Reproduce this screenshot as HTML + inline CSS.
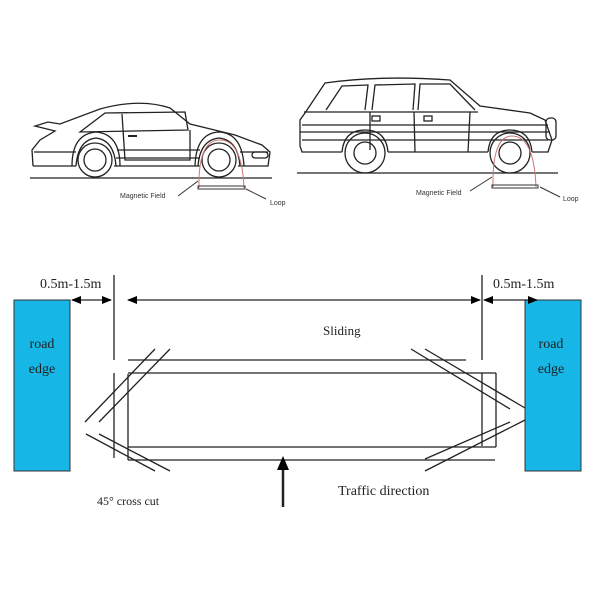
<!DOCTYPE html>
<html><head><style>
body{margin:0;background:#fff;}
svg{display:block;}
</style></head><body>
<svg width="600" height="600" viewBox="0 0 600 600" xmlns="http://www.w3.org/2000/svg">
<defs>
<marker id="ah" markerWidth="10" markerHeight="8" refX="9" refY="4" orient="auto-start-reverse" markerUnits="userSpaceOnUse">
<path d="M0,0 L10,4 L0,8 z" fill="#000"/></marker>
</defs>
<g fill="none" stroke="#222" stroke-width="1.3">
<!-- Porsche -->
<line x1="30" y1="178" x2="272" y2="178"/>
<path d="M33,166 L32,150 L40,140 L55,131 L35,126 L48,122 L60,124 L100,109 Q140,98 170,108 L190,124 L235,135 L262,145 L270,152 L268,166 L238,166"/>
<path d="M200,166 L114,166 M76,166 L33,166"/>
<path d="M34,152 L76,152 M116,158 L200,158 M240,152 L268,152"/>
<path d="M76,166 Q78,140 96,138 Q114,140 116,166"/>
<path d="M198,166 Q200,140 219,138 Q238,140 240,166"/>
<path d="M72,166 Q72,134 96,132 Q120,134 120,166"/>
<path d="M195,166 Q196,133 219,132 Q242,133 244,166"/>
<circle cx="95" cy="160" r="17"/><circle cx="95" cy="160" r="11"/>
<circle cx="219" cy="160" r="17"/><circle cx="219" cy="160" r="11"/>
<path d="M80,132 L105,113 L185,112 L188,130 Z"/>
<path d="M122,114 L125,160 L190,160 L190,130"/>
<path d="M117,150 L200,150"/>
<path d="M128,136 L137,136" stroke-width="2"/>
<rect x="252" y="152" width="16" height="6" rx="3"/>
<!-- SUV -->
<line x1="297" y1="173" x2="558" y2="173"/>
<path d="M300,146 L300,120 L305,113 L325,83 Q380,75 450,80 L480,106 L530,113 L545,120 L552,140 L548,152 L532,152 M488,152 L388,152 M342,152 L302,152 L300,146"/>
<path d="M304,112 L478,112"/>
<path d="M300,132 L550,132 M302,140 L548,140 M302,125 L548,125"/>
<path d="M342,152 Q344,130 365,130 Q386,130 388,152"/>
<path d="M488,152 Q490,130 510,130 Q530,130 532,152"/>
<circle cx="365" cy="153" r="20"/><circle cx="365" cy="153" r="11"/>
<circle cx="510" cy="153" r="20"/><circle cx="510" cy="153" r="11"/>
<path d="M326,110 L342,86 L368,85 L365,110 M372,110 L375,85 L415,84 L413,110 M418,110 L420,84 L450,84 L475,110"/>
<path d="M414,112 L415,152 M370,112 L370,150 M470,112 L468,152"/>
<rect x="546" y="118" width="10" height="22" rx="4"/>
<rect x="372" y="116" width="8" height="5"/><rect x="424" y="116" width="8" height="5"/>
</g>
<g fill="none" stroke="#c77" stroke-width="1">
<path d="M199,188 Q198,140 220,140 Q242,140 244,188"/>
<path d="M493,187 Q492,136 512,136 Q534,136 536,187"/>
</g>
<g fill="none" stroke="#333" stroke-width="1">
<rect x="198" y="186" width="47" height="3"/>
<rect x="492" y="185" width="46" height="3"/>
<line x1="178" y1="196" x2="198" y2="181"/>
<line x1="246" y1="189" x2="266" y2="199"/>
<line x1="470" y1="191" x2="492" y2="177"/>
<line x1="540" y1="187" x2="560" y2="197"/>
</g>
<g font-family="Liberation Sans, sans-serif" font-size="7" fill="#333">
<text x="120" y="198">Magnetic Field</text>
<text x="270" y="205">Loop</text>
<text x="416" y="195">Magnetic Field</text>
<text x="563" y="201">Loop</text>
</g>
<!-- bottom diagram -->
<rect x="14" y="300" width="56" height="171" fill="#16b6e6" stroke="#333" stroke-width="1"/>
<rect x="525" y="300" width="56" height="171" fill="#16b6e6" stroke="#333" stroke-width="1"/>
<g font-family="Liberation Serif, serif" font-size="14" fill="#222">
<text x="42" y="348" text-anchor="middle">road</text>
<text x="42" y="373" text-anchor="middle">edge</text>
<text x="551" y="348" text-anchor="middle">road</text>
<text x="551" y="373" text-anchor="middle">edge</text>
<text x="40" y="288">0.5m-1.5m</text>
<text x="493" y="288">0.5m-1.5m</text>
<text x="323" y="335" font-size="13">Sliding</text>
<text x="338" y="495">Traffic direction</text>
<text x="97" y="505" font-size="12">45°  cross cut</text>
</g>
<g stroke="#222" stroke-width="1.3" fill="none">
<line x1="72" y1="300" x2="111" y2="300" marker-start="url(#ah)" marker-end="url(#ah)"/>
<line x1="128" y1="300" x2="480" y2="300" marker-start="url(#ah)" marker-end="url(#ah)"/>
<line x1="484" y1="300" x2="537" y2="300" marker-start="url(#ah)" marker-end="url(#ah)"/>
<line x1="114" y1="275" x2="114" y2="360"/>
<line x1="114" y1="373" x2="114" y2="458"/>
<line x1="482" y1="275" x2="482" y2="360"/>
<line x1="482" y1="373" x2="482" y2="446"/>
<line x1="496" y1="373" x2="496" y2="447"/>
<line x1="128" y1="374" x2="128" y2="460"/>
<line x1="128" y1="360" x2="466" y2="360"/>
<line x1="128" y1="373" x2="496" y2="373"/>
<line x1="128" y1="447" x2="496" y2="447"/>
<line x1="128" y1="460" x2="495" y2="460"/>
<line x1="85" y1="422" x2="155" y2="349"/>
<line x1="99" y1="422" x2="170" y2="349"/>
<line x1="86" y1="434" x2="155" y2="471"/>
<line x1="99" y1="434" x2="170" y2="471"/>
<line x1="411" y1="349" x2="510" y2="409"/>
<line x1="425" y1="349" x2="525" y2="408"/>
<line x1="425" y1="459" x2="510" y2="422"/>
<line x1="425" y1="471" x2="525" y2="420"/>
<line x1="283" y1="507" x2="283" y2="462" stroke-width="2.5"/>
</g>
<path d="M277,470 L283,456 L289,470 Z" fill="#000"/>
</svg>
</body></html>
